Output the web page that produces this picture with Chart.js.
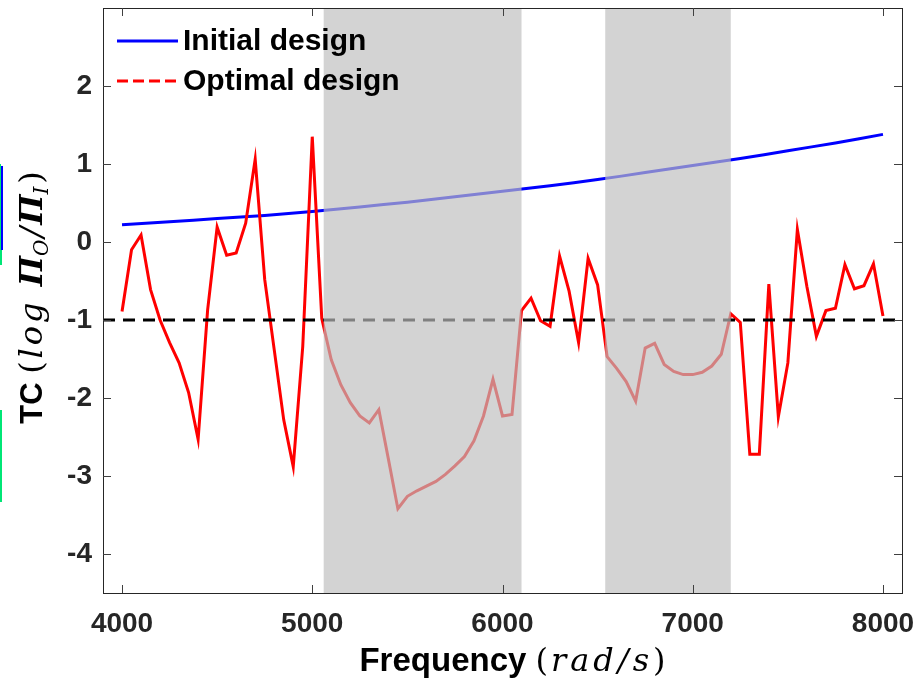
<!DOCTYPE html>
<html><head><meta charset="utf-8">
<script src="https://cdn.jsdelivr.net/npm/chart.js@4"></script>
<style>
html,body{margin:0;padding:0;background:#fff;overflow:hidden}
#wrap{position:relative;width:918px;height:682px}
.mk{position:absolute}
</style></head><body>
<div id="wrap">
<canvas id="c" width="918" height="682"></canvas>
<div class="mk" style="left:0;top:164px;width:1px;height:101px;background:#00e676"></div>
<div class="mk" style="left:1px;top:166px;width:2px;height:84px;background:#0000ff"></div>
<div class="mk" style="left:1px;top:250px;width:1px;height:15px;background:#00e676"></div>
<div class="mk" style="left:0;top:410px;width:2px;height:92px;background:#00e676"></div>
</div>
<script>
// ---- data ----
const optFreq = [4000,4050,4100,4150,4200,4250,4300,4350,4400,4450,4500,4550,4600,4650,4700,4750,4800,4850,4900,4950,
  5000,5050,5100,5150,5200,5250,5300,5350,5400,5450,5500,5550,5600,5650,5700,5750,5800,5850,5900,5950,
  6000,6050,6100,6150,6200,6250,6300,6350,6400,6450,6500,6550,6600,6650,6700,6750,6800,6850,6900,6950,
  7000,7050,7100,7150,7200,7250,7300,7350,7400,7450,7500,7550,7600,7650,7700,7750,7800,7850,7900,7950,8000];
const optTC = [-0.89,-0.10,0.09,-0.61,-1.00,-1.29,-1.55,-1.93,-2.53,-0.87,0.19,-0.17,-0.14,0.24,1.06,-0.48,-1.38,-2.28,-2.88,-1.34,
  1.35,-0.98,-1.51,-1.83,-2.06,-2.23,-2.32,-2.15,-2.78,-3.42,-3.26,-3.19,-3.13,-3.07,-2.98,-2.87,-2.75,-2.55,-2.23,-1.76,
  -2.23,-2.21,-0.88,-0.72,-1.01,-1.08,-0.18,-0.63,-1.29,-0.21,-0.55,-1.47,-1.62,-1.79,-2.04,-1.36,-1.30,-1.57,-1.66,-1.70,
  -1.70,-1.67,-1.59,-1.44,-0.92,-1.03,-2.72,-2.72,-0.54,-2.24,-1.55,0.16,-0.57,-1.21,-0.88,-0.85,-0.29,-0.60,-0.56,-0.28,-0.95];
const initFreq = [4000,4250,4500,4750,5000,5250,5500,5750,6000,6250,6500,6750,7000,7250,7500,7750,8000];
const initTC = [0.22,0.26,0.30,0.34,0.39,0.45,0.51,0.58,0.65,0.72,0.80,0.89,0.98,1.07,1.17,1.27,1.38];
const refFreq = [3900, 8100];
const refTC = [-1, -1];
const xTicks = [4000, 5000, 6000, 7000, 8000];
const yTicks = [-4, -3, -2, -1, 0, 1, 2];
const bandStart = [5060, 6540];
const bandEnd = [6100, 7200];
const legendLabels = ['Initial design', 'Optimal design'];

const pts = (xs, ys) => xs.map((v, i) => ({x: v, y: ys[i]}));
const SANS = '"Liberation Sans", Arial, sans-serif';
const SERIF = '"DejaVu Serif", serif';

function drawSegs(ctx, segs, cx, baseY) {
  let total = 0;
  segs.forEach(s => { ctx.font = s.f; ctx.letterSpacing = (s.ls || 0) + 'px'; s.w = ctx.measureText(s.t).width; total += s.w; });
  let x = cx - total / 2;
  ctx.textAlign = 'left';
  ctx.textBaseline = 'alphabetic';
  segs.forEach(s => { ctx.font = s.f; ctx.letterSpacing = (s.ls || 0) + 'px'; ctx.fillText(s.t, x, baseY + (s.dy || 0)); x += s.w; });
  ctx.letterSpacing = '0px';
}

const decor = {
  id: 'decor',
  afterDatasetsDraw(chart) {
    const {ctx, chartArea: a, scales: {x}} = chart;
    ctx.save();
    ctx.fillStyle = 'rgba(190,190,190,0.675)';
    for (let i = 0; i < bandStart.length; i++) {
      const x0 = x.getPixelForValue(bandStart[i]), x1 = x.getPixelForValue(bandEnd[i]);
      ctx.fillRect(x0, a.top, x1 - x0, a.bottom - a.top);
    }
    ctx.restore();
  },
  afterDraw(chart) {
    const {ctx, chartArea: a, scales: {x, y}} = chart;
    ctx.save();
    // frame
    ctx.strokeStyle = '#262626';
    ctx.lineWidth = 1;
    ctx.strokeRect(Math.round(a.left) + 0.5, Math.round(a.top) + 0.5, Math.round(a.right - a.left), Math.round(a.bottom - a.top));
    // inward ticks
    ctx.strokeStyle = '#404040';
    const tl = 8;
    ctx.beginPath();
    xTicks.forEach(v => {
      const px = Math.round(x.getPixelForValue(v)) + 0.5;
      ctx.moveTo(px, a.bottom); ctx.lineTo(px, a.bottom - tl);
      ctx.moveTo(px, a.top); ctx.lineTo(px, a.top + tl);
    });
    yTicks.forEach(v => {
      const py = Math.round(y.getPixelForValue(v)) + 0.5;
      ctx.moveTo(a.left, py); ctx.lineTo(a.left + tl, py);
      ctx.moveTo(a.right, py); ctx.lineTo(a.right - tl, py);
    });
    ctx.stroke();
    // legend
    const lx0 = a.left + 14, lx1 = a.left + 75, ly = [a.top + 33, a.top + 73];
    ctx.lineWidth = 3;
    ctx.strokeStyle = '#0000ff';
    ctx.setLineDash([]);
    ctx.beginPath(); ctx.moveTo(lx0, ly[0]); ctx.lineTo(lx1, ly[0]); ctx.stroke();
    ctx.strokeStyle = '#ff0000';
    ctx.setLineDash([11, 5]);
    ctx.beginPath(); ctx.moveTo(lx0, ly[1]); ctx.lineTo(lx1, ly[1]); ctx.stroke();
    ctx.setLineDash([]);
    ctx.fillStyle = '#000';
    ctx.font = 'bold 30px ' + SANS;
    ctx.textAlign = 'left';
    ctx.textBaseline = 'middle';
    legendLabels.forEach((t, i) => ctx.fillText(t, lx1 + 5, ly[i] + 1));
    // x title
    ctx.fillStyle = '#000';
    drawSegs(ctx, [
      {t: 'Frequency ', f: 'bold 33px ' + SANS},
      {t: '(', f: '32px ' + SERIF, ls: 3},
      {t: 'rad/s', f: 'italic 32px ' + SERIF, ls: 4},
      {t: ')', f: '32px ' + SERIF}
    ], (a.left + a.right) / 2 + 10, 671);
    // y title
    ctx.translate(42, (a.top + a.bottom) / 2 - 3);
    ctx.rotate(-Math.PI / 2);
    drawSegs(ctx, [
      {t: 'TC ', f: 'bold 31px ' + SANS},
      {t: '(', f: '32px ' + SERIF, ls: 3},
      {t: 'log ', f: 'italic 32px ' + SERIF, ls: 3},
      {t: 'Π', f: 'bold italic 32px ' + SERIF},
      {t: 'O', f: 'italic 20px ' + SERIF, dy: 6, ls: 2},
      {t: '/', f: 'italic 32px ' + SERIF, ls: 2},
      {t: 'Π', f: 'bold italic 32px ' + SERIF},
      {t: 'I', f: 'italic 20px ' + SERIF, dy: 6, ls: 3},
      {t: ')', f: '32px ' + SERIF}
    ], 0, 0);
    ctx.restore();
  }
};

new Chart(document.getElementById('c'), {
  type: 'line',
  data: {
    datasets: [
      {label: 'ref', data: pts(refFreq, refTC), borderColor: '#000000', borderWidth: 3, borderDash: [12, 8], pointRadius: 0, fill: false},
      {label: legendLabels[1], data: pts(optFreq, optTC), borderColor: '#ff0000', borderWidth: 3, pointRadius: 0, fill: false, tension: 0},
      {label: legendLabels[0], data: pts(initFreq, initTC), borderColor: '#0000ff', borderWidth: 3, pointRadius: 0, fill: false, tension: 0.3}
    ]
  },
  options: {
    responsive: false,
    devicePixelRatio: 1,
    animation: false,
    layout: {padding: {top: 8, right: 16, left: 0, bottom: 0}},
    plugins: {legend: {display: false}, tooltip: {enabled: false}},
    scales: {
      x: {
        type: 'linear', min: 3900, max: 8100,
        afterBuildTicks: s => { s.ticks = xTicks.map(v => ({value: v})); },
        afterFit: s => { s.height = 89; s.paddingLeft = 0; s.paddingRight = 0; },
        grid: {display: false, drawTicks: false},
        border: {display: false},
        ticks: {font: {family: SANS, size: 28, weight: 'bold'}, color: '#262626', padding: 14, maxRotation: 0, callback: v => String(v)}
      },
      y: {
        type: 'linear', min: -4.5, max: 3.0,
        afterBuildTicks: s => { s.ticks = yTicks.map(v => ({value: v})); },
        afterFit: s => { s.width = 103; s.paddingTop = 0; s.paddingBottom = 0; },
        grid: {display: false, drawTicks: false},
        border: {display: false},
        ticks: {font: {family: SANS, size: 28, weight: 'bold'}, color: '#262626', padding: 11, callback: v => String(v)}
      }
    }
  },
  plugins: [decor]
});
</script>
</body></html>
